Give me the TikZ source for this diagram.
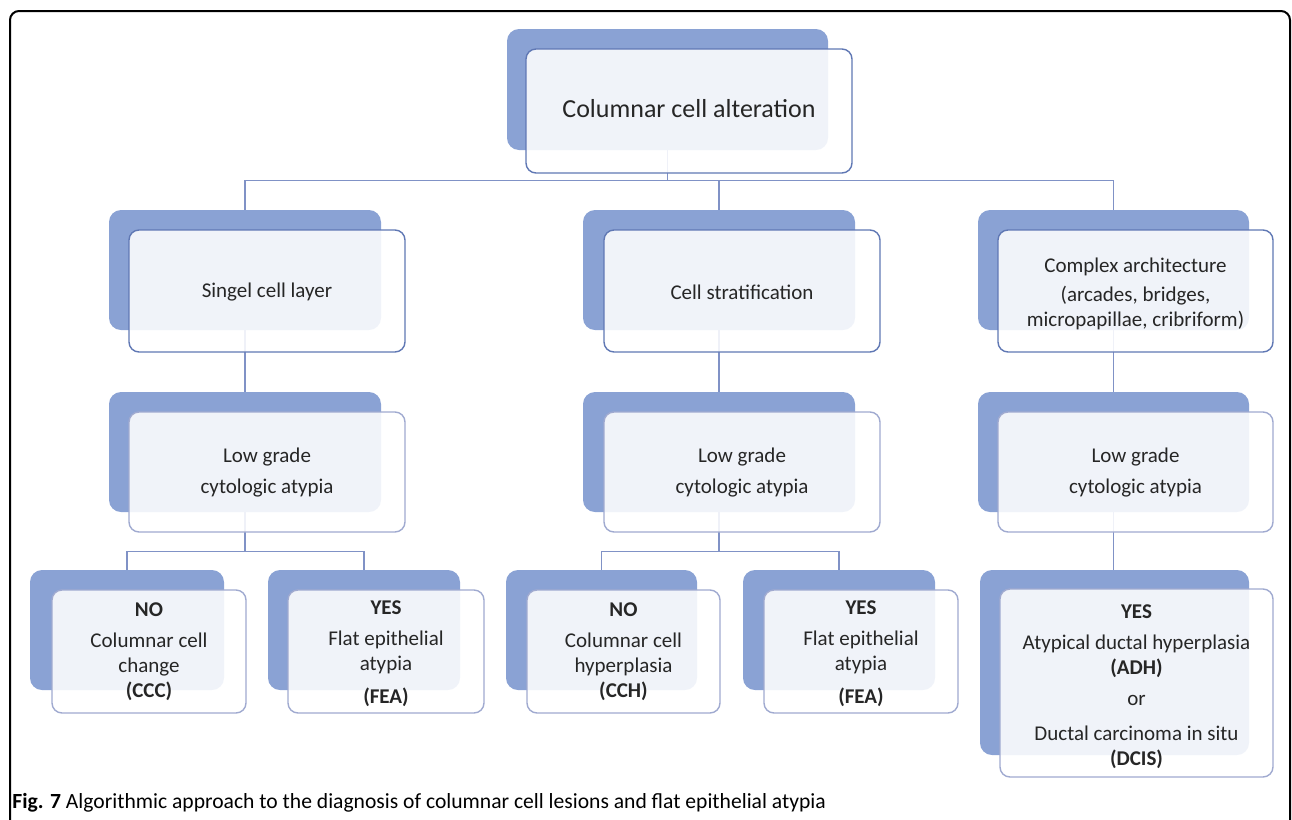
\documentclass[tikz,border=0pt]{standalone}
\usepackage{fontspec}
\setmainfont{Carlito}
\usetikzlibrary{fit}
\definecolor{backblue}{RGB}{138,162,212}
\definecolor{edgedark}{RGB}{96,120,180}
\definecolor{edgelight}{RGB}{160,170,208}
\definecolor{connblue}{RGB}{128,146,198}
\definecolor{inktext}{RGB}{38,38,38}
\tikzset{
  backbox/.style={rectangle, rounded corners=6pt, fill=backblue, draw=none, inner sep=0pt},
  frontbox/.style={rectangle, rounded corners=5pt, fill=white, fill opacity=0.88,
    draw=edgedark, line width=0.7pt, inner sep=0pt},
  lowbox/.style={frontbox, draw=edgelight},
  boxtext/.style={inner sep=0pt, align=center, text=inktext, font=\fontsize{10.5}{12.5}\selectfont},
  conn/.style={draw=connblue, line width=0.65pt},
}
\begin{document}
\begin{tikzpicture}[x=0.5pt, y=-0.5pt]
\useasboundingbox (0,0) rectangle (1292,820);
% frame
\draw[line width=1pt, rounded corners=4.5pt] (10,830) -- (10,11) -- (1290,11) -- (1290,830);

% back boxes
\node[backbox, fit={(507,29) (828,150)}] (btop) {};
\node[backbox, fit={(109,210) (381,330)}] (bsl) {};
\node[backbox, fit={(583,210) (855,330)}] (bcs) {};
\node[backbox, fit={(978,210) (1249,330)}] (bca) {};
\node[backbox, fit={(109,392) (381,512)}] (bga) {};
\node[backbox, fit={(583,392) (855,512)}] (bgb) {};
\node[backbox, fit={(978,392) (1249,512)}] (bgc) {};
\node[backbox, fit={(30,570) (224,690)}] (bccc) {};
\node[backbox, fit={(268,570) (460,690)}] (bfea) {};
\node[backbox, fit={(506,570) (697,690)}] (bcch) {};
\node[backbox, fit={(743,570) (935,690)}] (bfeb) {};
\node[backbox, fit={(980,570) (1249,755)}] (badh) {};

% connectors
\foreach \nm in {bsl, bcs, bca}
  \draw[conn] (btop.south) -- ++(0,30) -| (\nm.north);
\draw[conn] (bsl.south) -- (bga.north);
\draw[conn] (bcs.south) -- (bgb.north);
\draw[conn] (bca.south) -- (bgc.north);
\foreach \nm in {bccc, bfea}
  \draw[conn] (bga.south) -- ++(0,39) -| (\nm.north);
\foreach \nm in {bcch, bfeb}
  \draw[conn] (bgb.south) -- ++(0,39) -| (\nm.north);
\draw[conn] (bgc.south) -- (bgc.south |- badh.north);

% front boxes
\node[frontbox, fit={(526,49) (852,173)}] (top) {};
\node[frontbox, fit={(129,230) (405,352)}] (sl) {};
\node[frontbox, fit={(604,230) (880,352)}] (cs) {};
\node[frontbox, fit={(998,230) (1273,352)}] (ca) {};
\node[lowbox, fit={(129,412) (405,532)}] (ga) {};
\node[lowbox, fit={(604,412) (880,532)}] (gb) {};
\node[lowbox, fit={(998,412) (1273,532)}] (gc) {};
\node[lowbox, fit={(52,590) (246,713)}] (ccc) {};
\node[lowbox, fit={(288,590) (484,713)}] (fea) {};
\node[lowbox, fit={(527,590) (720,713)}] (cch) {};
\node[lowbox, fit={(764,590) (958,713)}] (feb) {};
\node[lowbox, fit={(1000,589) (1273,777)}] (adh) {};

% texts
\node[boxtext, font=\fontsize{13}{15}\selectfont] (ttop) at ([yshift=1pt]top.center) {Columnar cell alteration};
\node[boxtext] (tsl) at ([yshift=-0.5pt]sl.center) {Singel cell layer};
\node[boxtext] (tcs) at ([yshift=-0.5pt]cs.center) {Cell stratification};
\node[boxtext] (tca) at ([yshift=-1.5pt]ca.center) {Complex architecture\\[2pt] (arcades, bridges,\\ micropapillae, cribriform)};
\foreach \nm in {ga, gb, gc}
  \node[boxtext] (t\nm) at ([yshift=-0.5pt]\nm.center) {Low grade\\[3pt] cytologic atypia};
\node[boxtext] (tccc) at (ccc.center) {\textbf{NO}\\[3pt] Columnar cell\\ change\\ \textbf{(CCC)}};
\node[boxtext] (tfea) at ([yshift=-1pt]fea.center) {\textbf{YES}\\[3pt] Flat epithelial\\ atypia\\[4pt] \textbf{(FEA)}};
\node[boxtext] (tcch) at (cch.center) {\textbf{NO}\\[3pt] Columnar cell\\ hyperplasia\\ \textbf{(CCH)}};
\node[boxtext] (tfeb) at ([yshift=-1pt]feb.center) {\textbf{YES}\\[3pt] Flat epithelial\\ atypia\\[4pt] \textbf{(FEA)}};
\node[boxtext] (tadh) at ([yshift=-2pt]adh.center) {\textbf{YES}\\[3pt] Atypical ductal hyperplasia\\ \textbf{(ADH)}\\[3pt] or\\[5pt] Ductal carcinoma in situ\\ \textbf{(DCIS)}};

% caption
\node[anchor=base west, inner sep=0pt, font=\fontsize{10.8}{12}\selectfont] (caption) at (12,808)
  {\textbf{Fig. 7} Algorithmic approach to the diagnosis of columnar cell lesions and flat epithelial atypia};
\end{tikzpicture}
\end{document}
